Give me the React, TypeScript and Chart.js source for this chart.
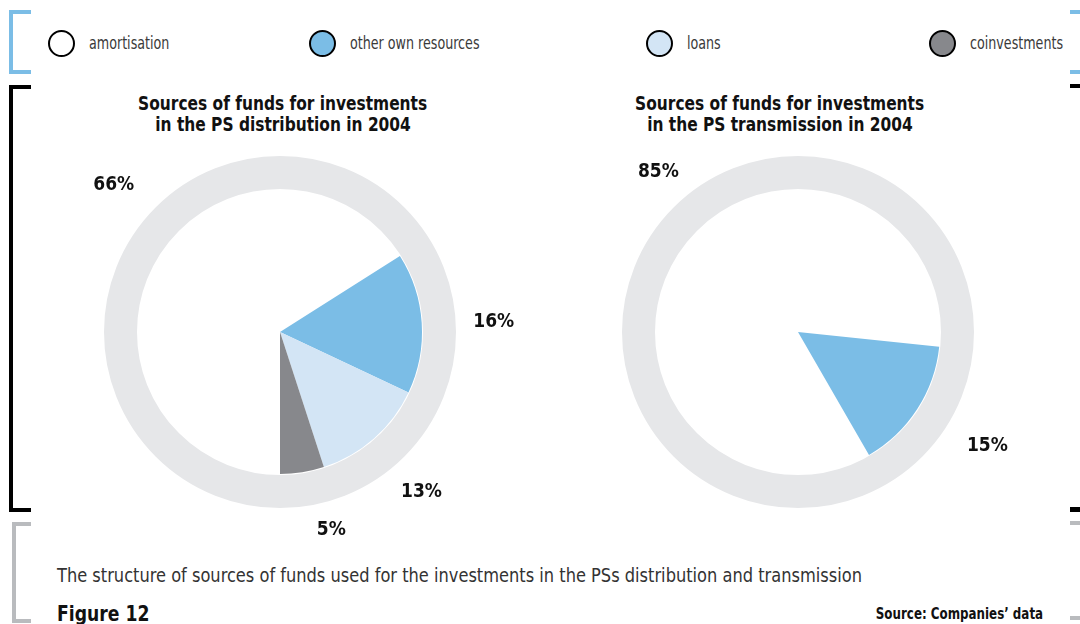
import React, { useEffect, useRef } from "react";
import { Chart, registerables } from "chart.js";

Chart.register(...registerables);

// ---------- data ----------
const categories = ["amortisation", "other own resources", "loans", "coinvestments"];
const sliceColors = ["#FFFFFF", "#7BBDE6", "#D3E5F5", "#87888C"];
const distributionValues = [66, 16, 13, 5];
const transmissionValues = [85, 15, 0, 0];
const distributionTitle = ["Sources of funds for investments", "in the PS distribution in 2004"];
const transmissionTitle = ["Sources of funds for investments", "in the PS transmission in 2004"];
const captionText = "The structure of sources of funds used for the investments in the PSs distribution and transmission";
const figureText = "Figure 12";
const sourceText = "Source: Companies\u2019 data";

const FONT = '"Liberation Sans Narrow", "DejaVu Sans Condensed", "Roboto Condensed", Arial, sans-serif';

const ringPlugin = {
  id: "outerRing",
  beforeDatasetsDraw(chart: any, _a: any, opts: any) {
    const arc = chart.getDatasetMeta(0).data[0];
    if (!arc) return;
    const { x, y, outerRadius } = arc.getProps(["x", "y", "outerRadius"], true);
    const ctx = chart.ctx;
    ctx.save();
    ctx.beginPath();
    ctx.arc(x, y, outerRadius + opts.gap + opts.width / 2, 0, Math.PI * 2);
    ctx.lineWidth = opts.width;
    ctx.strokeStyle = opts.color;
    ctx.stroke();
    ctx.restore();
  },
};

const labelPlugin = {
  id: "pctLabels",
  afterDatasetsDraw(chart: any, _a: any, opts: any) {
    const meta = chart.getDatasetMeta(0);
    const data = chart.data.datasets[0].data as number[];
    const ctx = chart.ctx;
    ctx.save();
    ctx.font = `bold 19px ${FONT}`;
    ctx.fillStyle = "#111111";
    ctx.textAlign = "center";
    ctx.textBaseline = "middle";
    meta.data.forEach((el: any, i: number) => {
      const v = data[i];
      if (!v) return;
      const p = el.getProps(["x", "y", "startAngle", "endAngle", "outerRadius"], true);
      const shift = ((opts.shifts && opts.shifts[i]) || 0) * Math.PI / 180;
      const mid = (p.startAngle + p.endAngle) / 2 + shift;
      const r = p.outerRadius + opts.distance + ((opts.extra && opts.extra[i]) || 0);
      ctx.fillText(`${v}%`, p.x + r * Math.cos(mid), p.y + r * Math.sin(mid));
    });
    ctx.restore();
  },
};

function PieChart(props: {
  values: number[];
  rotation: number;
  shifts: number[];
  extra: number[];
  style: React.CSSProperties;
}) {
  const ref = useRef<HTMLCanvasElement>(null);
  useEffect(() => {
    if (!ref.current) return;
    const chart = new Chart(ref.current, {
      type: "pie",
      data: {
        labels: categories,
        datasets: [
          {
            data: props.values,
            backgroundColor: sliceColors,
            borderWidth: 0,
            hoverOffset: 0,
            offset: 0,
          },
        ],
      },
      options: {
        responsive: false,
        animation: false,
        rotation: props.rotation,
        layout: { padding: { top: 70, bottom: 70, left: 108, right: 108 } },
        events: [],
        plugins: {
          legend: { display: false },
          tooltip: { enabled: false },
          title: { display: false },
          outerRing: { width: 33, gap: 1, color: "#E6E7E9" },
          pctLabels: { distance: 72, shifts: props.shifts, extra: props.extra },
        } as any,
      },
      plugins: [ringPlugin, labelPlugin],
    });
    return () => chart.destroy();
  }, []);
  return <canvas ref={ref} width={500} height={424} style={{ position: "absolute", ...props.style }} />;
}

function Bar(p: { x: number; y: number; w: number; h: number; c: string }) {
  return <div style={{ position: "absolute", left: p.x, top: p.y, width: p.w, height: p.h, background: p.c }} />;
}

function Bracket(p: { x: number; top: number; bottom: number; c: string }) {
  return (
    <>
      <Bar x={p.x} y={p.top} w={4} h={p.bottom - p.top} c={p.c} />
      <Bar x={p.x} y={p.top} w={31 - p.x} h={4} c={p.c} />
      <Bar x={p.x} y={p.bottom - 4} w={31 - p.x} h={4} c={p.c} />
    </>
  );
}

function Squeeze(p: { k: number; origin: string; children: React.ReactNode; style?: React.CSSProperties }) {
  return (
    <span
      style={{
        display: "inline-block",
        transform: `scaleX(${p.k})`,
        transformOrigin: p.origin,
        whiteSpace: "nowrap",
        ...p.style,
      }}
    >
      {p.children}
    </span>
  );
}

const legendX = [48, 309, 646, 929];

export default function App() {
  const BLUE = "#7BBDE6";
  const GRAY = "#B9BBBE";
  return (
    <div
      style={{
        position: "fixed",
        left: 0,
        top: 0,
        width: 1080,
        height: 624,
        overflow: "hidden",
        background: "#FFFFFF",
        fontFamily: FONT,
      }}
    >
      {/* brackets */}
      <Bracket x={9} top={10} bottom={74} c={BLUE} />
      <Bracket x={9} top={85} bottom={512} c="#000000" />
      <Bracket x={12} top={522} bottom={623} c={GRAY} />
      <Bar x={1070} y={10} w={10} h={4} c={BLUE} />
      <Bar x={1070} y={70} w={10} h={4} c={BLUE} />
      <Bar x={1070} y={84} w={10} h={4} c="#000000" />
      <Bar x={1070} y={507} w={10} h={5} c="#000000" />
      <Bar x={1070} y={521} w={10} h={4} c={GRAY} />
      <Bar x={1070} y={616} w={10} h={4} c={GRAY} />

      {/* legend */}
      {categories.map((c, i) => (
        <div
          key={c}
          style={{ position: "absolute", left: legendX[i], top: 29, height: 28, display: "flex", alignItems: "center" }}
        >
          <div
            style={{
              width: 23,
              height: 23,
              borderRadius: "50%",
              border: "2.5px solid #000",
              background: sliceColors[i],
              flex: "none",
            }}
          />
          <Squeeze k={0.83} origin="left center" style={{ marginLeft: 14, fontSize: 17, color: "#3a3a3a" }}>
            {c}
          </Squeeze>
        </div>
      ))}

      {/* titles */}
      {[distributionTitle, transmissionTitle].map((t, i) => (
        <div
          key={i}
          style={{
            position: "absolute",
            left: i === 0 ? 33 : 530,
            top: 93,
            width: 500,
            textAlign: "center",
            fontWeight: "bold",
            fontSize: 20,
            lineHeight: "21px",
            color: "#111",
          }}
        >
          <Squeeze k={0.857} origin="center center">
            {t[0]}
          </Squeeze>
          <br />
          <Squeeze k={0.857} origin="center center">
            {t[1]}
          </Squeeze>
        </div>
      ))}

      <PieChart
        values={distributionValues}
        rotation={180}
        shifts={[12.7, 1, 0, -5.5]}
        extra={[8, 0, 0, -9]}
        style={{ left: 30, top: 120 }}
      />
      <PieChart
        values={transmissionValues}
        rotation={150}
        shifts={[15.8, -2, 0, 0]}
        extra={[-2, 7, 0, 0]}
        style={{ left: 548, top: 120 }}
      />

      {/* caption */}
      <div style={{ position: "absolute", left: 57, top: 564, fontSize: 19, color: "#333" }}>
        <Squeeze k={0.95} origin="left center">
          {captionText}
        </Squeeze>
      </div>
      <div style={{ position: "absolute", left: 57, top: 601, fontSize: 22, fontWeight: "bold", color: "#111" }}>
        <Squeeze k={0.87} origin="left center">
          {figureText}
        </Squeeze>
      </div>
      <div
        style={{
          position: "absolute",
          right: 1080 - 1043,
          top: 605,
          fontSize: 15,
          fontWeight: "bold",
          color: "#111",
        }}
      >
        <Squeeze k={0.88} origin="right center">
          {sourceText}
        </Squeeze>
      </div>
    </div>
  );
}
